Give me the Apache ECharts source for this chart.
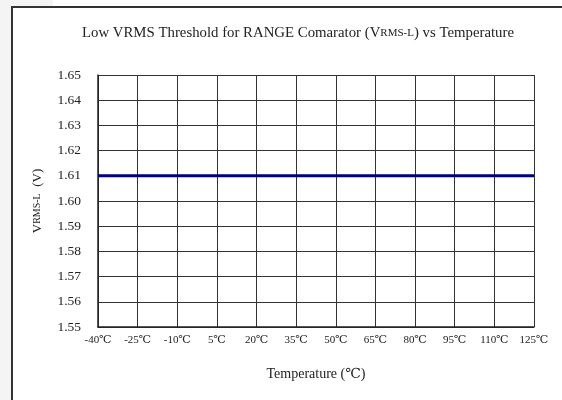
<!DOCTYPE html>
<html>
<head>
<meta charset="utf-8">
<script src="https://cdn.jsdelivr.net/npm/echarts@6/dist/echarts.min.js"></script>
<style>
html,body{margin:0;padding:0;background:#fff;}
#c{width:562px;height:400px;}
</style>
</head>
<body>
<div id="c"></div>
<script>
var temperatures = ['-40℃','-25℃','-10℃','5℃','20℃','35℃','50℃','65℃','80℃','95℃','110℃','125℃'];
var vrmsL = [1.61,1.61,1.61,1.61,1.61,1.61,1.61,1.61,1.61,1.61,1.61,1.61];
var yMin = 1.55, yMax = 1.65, yStep = 0.01;

var FONT = '"Liberation Serif","DejaVu Serif",serif';
var chart = echarts.init(document.getElementById('c'));
chart.setOption({
  animation: false,
  backgroundColor: '#fff',
  graphic: [
    {type:'rect', shape:{x:0,y:0,width:11,height:400}, style:{fill:'#f4f4f4'}, silent:true, z:-10},
    {type:'rect', shape:{x:0,y:0,width:53,height:6}, style:{fill:'#f4f4f4'}, silent:true, z:-10},
    {type:'rect', shape:{x:12,y:7,width:600,height:450}, style:{fill:'none',stroke:'#333',lineWidth:2}, silent:true, z:-5}
  ],
  title: {
    text: 'Low VRMS Threshold for RANGE Comarator (V{s|RMS-L}) vs Temperature',
    left: 293, top: 21, textAlign: 'center',
    textStyle: {
      fontFamily: FONT, fontSize: 14.8, fontWeight: 'normal', color: '#222',
      rich: { s: { fontFamily: FONT, fontSize: 11, color: '#222' } }
    }
  },
  grid: { left: 98, right: 28, top: 75, bottom: 73 },
  xAxis: {
    type: 'category',
    data: temperatures,
    boundaryGap: false,
    name: 'Temperature (℃)',
    nameLocation: 'middle',
    nameGap: 40,
    nameTextStyle: { fontFamily: FONT, fontSize: 14, color: '#222' },
    axisLine: { lineStyle: { color: '#222', width: 1.5 } },
    axisTick: { show: false },
    axisLabel: { fontFamily: FONT, fontSize: 11, color: '#222', margin: 8, interval: 0 },
    splitLine: { show: true, lineStyle: { color: '#333', width: 1 } }
  },
  yAxis: {
    type: 'value',
    min: yMin, max: yMax, interval: yStep,
    name: 'V{s|RMS-L}  (V)',
    nameLocation: 'middle',
    nameGap: 54,
    nameTextStyle: {
      fontFamily: FONT, fontSize: 13, color: '#222',
      rich: { s: { fontFamily: FONT, fontSize: 10, color: '#222' } }
    },
    axisLine: { show: true, lineStyle: { color: '#222', width: 1.5 } },
    axisTick: { show: false },
    axisLabel: {
      fontFamily: FONT, fontSize: 13.5, color: '#222', margin: 17,
      formatter: function (v) { return v.toFixed(2); }
    },
    splitLine: { show: true, lineStyle: { color: '#333', width: 1 } }
  },
  series: [{
    type: 'line',
    data: vrmsL,
    showSymbol: false,
    lineStyle: { color: '#000080', width: 3 },
    z: 5
  }]
});
</script>
</body>
</html>
